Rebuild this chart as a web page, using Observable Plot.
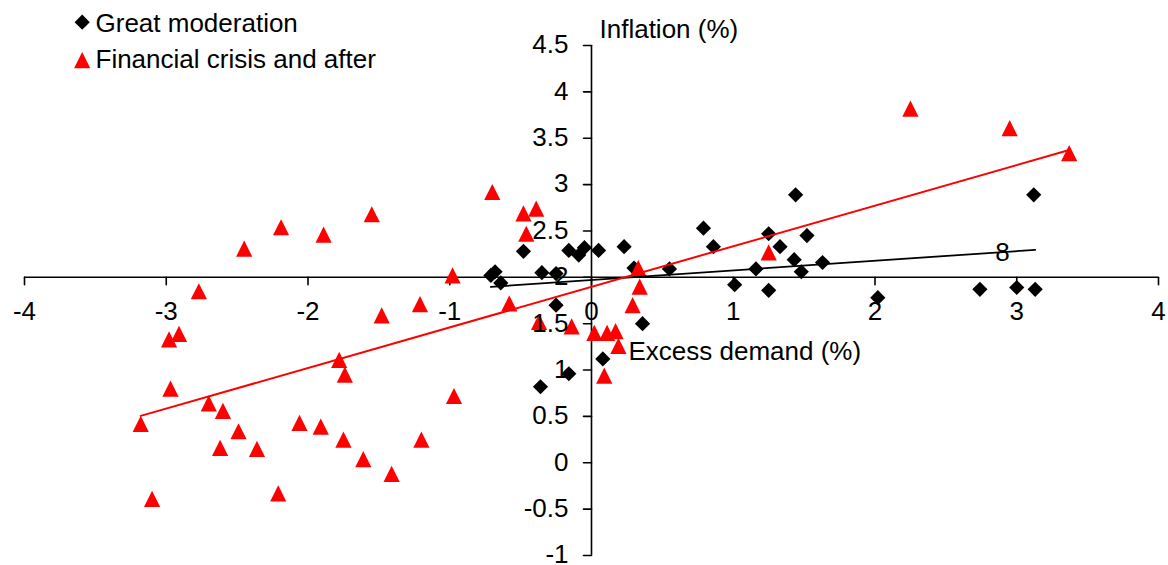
<!DOCTYPE html>
<html>
<head>
<meta charset="utf-8">
<script src="https://cdn.jsdelivr.net/npm/d3@7"></script>
<script src="https://cdn.jsdelivr.net/npm/@observablehq/plot@0.6"></script>
<style>
html, body { margin: 0; padding: 0; background: #fff; }
#chart { width: 1168px; height: 565px; }
</style>
</head>
<body>
<div id="chart"></div>
<script>
// ---- data ----
const seriesNames = ["Great moderation", "Financial crisis and after"];

const gmX = [-0.71,-0.68,-0.64,-0.48,-0.35,-0.25,-0.25,-0.36,-0.16,-0.16,-0.09,-0.05,0.05,0.08,0.23,0.30,0.36,0.55,0.79,0.86,1.01,1.16,1.25,1.25,1.33,1.44,1.43,1.52,1.48,1.63,2.02,2.74,3.00,3.12,3.13];
const gmY = [2.02,2.06,1.94,2.28,2.05,2.04,1.70,0.82,0.96,2.29,2.24,2.32,2.29,1.12,2.33,2.10,1.50,2.09,2.53,2.33,1.92,2.09,2.47,1.86,2.33,2.89,2.19,2.45,2.06,2.16,1.78,1.87,1.89,2.89,1.87];

const fcX = [-3.18,-3.10,-2.98,-2.91,-2.97,-2.77,-2.70,-2.60,-2.62,-2.49,-2.45,-2.36,-2.19,-2.21,-2.06,-1.89,-1.91,-1.78,-1.74,-1.75,-1.61,-1.55,-1.48,-1.41,-1.21,-1.20,-0.98,-0.97,-0.70,-0.58,-0.48,-0.46,-0.39,-0.37,-0.14,0.02,0.11,0.17,0.19,0.09,0.29,0.33,0.34,1.25,2.25,2.95,3.37];
const fcY = [0.42,-0.39,1.33,1.39,0.80,1.85,0.64,0.56,0.16,0.34,2.31,0.15,2.54,-0.33,0.43,2.46,0.39,1.11,0.95,0.25,0.04,2.68,1.59,-0.12,1.71,0.25,2.02,0.72,2.92,1.72,2.69,2.47,2.74,1.52,1.47,1.40,1.40,1.42,1.26,0.94,1.70,2.10,1.90,2.27,3.82,3.61,3.34];

const xTicks = [-4, -3, -2, -1, 0, 1, 2, 3, 4];
const yTicks = [-1, -0.5, 0, 0.5, 1, 1.5, 2, 2.5, 3, 3.5, 4, 4.5];
const xTitle = "Excess demand (%)";
const yTitle = "Inflation (%)";
const noteText = ["8"];
const noteX = [2.9];
const noteY = [2.27];

// ---- build tables ----
const gm = gmX.map((x, i) => ({x, y: gmY[i]}));
const fc = fcX.map((x, i) => ({x, y: fcY[i]}));
const notes = noteText.map((t, i) => ({t, x: noteX[i], y: noteY[i]}));
const xCross = 2; // horizontal axis crosses at inflation = 2
const yCross = 0; // vertical axis crosses at excess demand = 0

// custom symbols (bbox-centred, like Excel markers)
const diamond = {draw(ctx, size) { const h = Math.sqrt(size / Math.PI); ctx.moveTo(0, -h); ctx.lineTo(h, 0); ctx.lineTo(0, h); ctx.lineTo(-h, 0); ctx.closePath(); }};
const triangle = {draw(ctx, size) { const h = Math.sqrt(size / Math.PI); ctx.moveTo(0, -h); ctx.lineTo(h, h); ctx.lineTo(-h, h); ctx.closePath(); }};
const tickShape = {draw(ctx, l) { ctx.moveTo(0, 0); ctx.lineTo(0, -l); }};

const FONT = 26;
const R_DIAMOND = 7.6;
const R_TRIANGLE = 8.1;

const chart = Plot.plot({
  width: 1168,
  height: 565,
  marginLeft: 24,
  marginRight: 10,
  marginTop: 45,
  marginBottom: 10,
  style: {fontFamily: "'Liberation Sans', Arial, sans-serif", fontSize: FONT + "px", background: "#fff", overflow: "visible"},
  x: {domain: [-4, 4], axis: null},
  y: {domain: [-1, 4.5], axis: null},
  marks: [
    // axes lines
    Plot.ruleY([xCross], {x1: -4, x2: 4, stroke: "black", strokeWidth: 1.6}),
    Plot.ruleX([yCross], {y1: -1, y2: 4.5, stroke: "black", strokeWidth: 1.6}),
    // tick marks
    Plot.vector(xTicks, {x: d => d, y: xCross, length: 7.5, rotate: 180, anchor: "start", shape: tickShape, stroke: "black", strokeWidth: 1.6}),
    Plot.vector(yTicks, {x: yCross, y: d => d, length: 8, rotate: -90, anchor: "start", shape: tickShape, stroke: "black", strokeWidth: 1.6}),
    // series
    Plot.dot(gm, {x: "x", y: "y", symbol: diamond, r: R_DIAMOND, fill: "black", stroke: "none"}),
    Plot.dot(fc, {x: "x", y: "y", symbol: triangle, r: R_TRIANGLE, fill: "#ff0000", stroke: "none"}),
    // trendlines
    Plot.linearRegressionY(gm, {x: "x", y: "y", stroke: "black", strokeWidth: 1.8, ci: 0}),
    Plot.linearRegressionY(fc, {x: "x", y: "y", stroke: "#ff0000", strokeWidth: 2, ci: 0}),
    // tick labels
    Plot.text(xTicks, {x: d => d, y: xCross, text: d => String(d), dy: 34, fill: "black", fontSize: FONT}),
    Plot.text(yTicks, {x: yCross, y: d => d, text: d => String(d), textAnchor: "end", dx: -23, dy: -0.5, fill: "black", fontSize: FONT}),
    // axis titles
    Plot.text([yTitle], {x: yCross, y: 4.5, text: d => d, textAnchor: "start", dx: 8, dy: -16, fill: "black", fontSize: FONT}),
    Plot.text([xTitle], {x: yCross, y: xCross, text: d => d, textAnchor: "start", dx: 37, dy: 74.5, fill: "black", fontSize: FONT}),
    // stray label
    Plot.text(notes, {x: "x", y: "y", text: "t", fill: "black", fontSize: FONT}),
    // legend
    Plot.dot([seriesNames[0]], {frameAnchor: "top-left", dx: 57.7, dy: -23.3, symbol: diamond, r: R_DIAMOND, fill: "black", stroke: "none"}),
    Plot.text([seriesNames[0]], {frameAnchor: "top-left", lineAnchor: "middle", text: d => d, textAnchor: "start", dx: 71, dy: -22.3, fill: "black", fontSize: FONT}),
    Plot.dot([seriesNames[1]], {frameAnchor: "top-left", dx: 57.7, dy: 14.7, symbol: triangle, r: R_TRIANGLE, fill: "#ff0000", stroke: "none"}),
    Plot.text([seriesNames[1]], {frameAnchor: "top-left", lineAnchor: "middle", text: d => d, textAnchor: "start", dx: 71, dy: 14, fill: "black", fontSize: FONT})
  ]
});
document.getElementById("chart").appendChild(chart);
</script>
</body>
</html>
